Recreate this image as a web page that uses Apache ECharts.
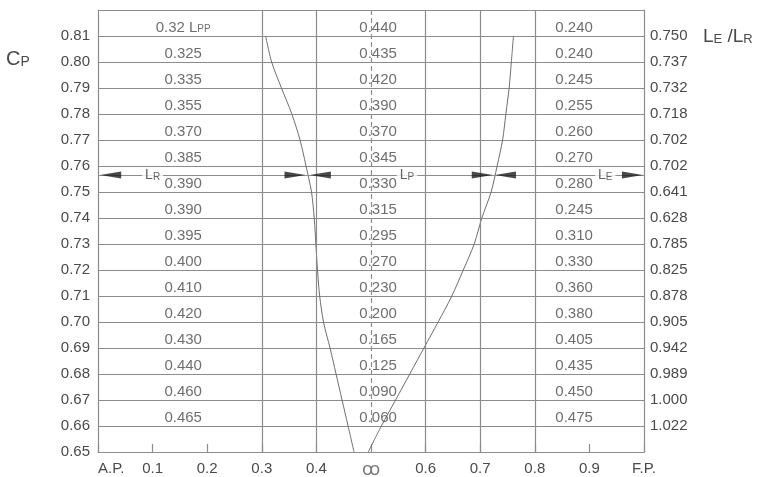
<!DOCTYPE html>
<html><head><meta charset="utf-8">
<script src="https://cdn.jsdelivr.net/npm/echarts@6/dist/echarts.min.js"></script>
<style>html,body{margin:0;padding:0;background:#fff}#c{width:762px;height:477px}</style>
</head><body><div id="c"></div>
<script>
// ---- data ----
const rowCp = [0.81,0.80,0.79,0.78,0.77,0.76,0.75,0.74,0.73,0.72,0.71,0.70,0.69,0.68,0.67,0.66];
const lrValues = ['0.32','0.325','0.335','0.355','0.370','0.385','0.390','0.390','0.395','0.400','0.410','0.420','0.430','0.440','0.460','0.465'];
const lpValues = ['0.440','0.435','0.420','0.390','0.370','0.345','0.330','0.315','0.295','0.270','0.230','0.200','0.165','0.125','0.090','0.060'];
const leValues = ['0.240','0.240','0.245','0.255','0.260','0.270','0.280','0.245','0.310','0.330','0.360','0.380','0.405','0.435','0.450','0.475'];
const leLrRatio = ['0.750','0.737','0.732','0.718','0.702','0.702','0.641','0.628','0.785','0.825','0.878','0.905','0.942','0.989','1.000','1.022'];
const xTickLabels = ['A.P.','0.1','0.2','0.3','0.4','{m|ꝏ}','0.6','0.7','0.8','0.9','F.P.'];
const aftCurve = [[0.307,0.81],[0.318,0.80],[0.336,0.79],[0.355,0.78],[0.370,0.77],[0.381,0.76],[0.391,0.75],[0.396,0.74],[0.399,0.73],[0.402,0.72],[0.406,0.71],[0.413,0.70],[0.425,0.69],[0.436,0.68],[0.447,0.67],[0.458,0.66],[0.469,0.65]];
const foreCurve = [[0.761,0.81],[0.757,0.80],[0.753,0.79],[0.747,0.78],[0.741,0.77],[0.731,0.76],[0.720,0.75],[0.703,0.74],[0.689,0.73],[0.669,0.72],[0.648,0.71],[0.623,0.70],[0.597,0.69],[0.571,0.68],[0.545,0.67],[0.519,0.66],[0.495,0.65]];
const lpLineCp = 0.7565;
const arrowTips = [0.004, 0.380, 0.388, 0.723, 0.727, 0.998];
const arrowDirs = ['left','right','left','right','left','right'];
const arrowLabels = [['L','R',0.100],['L','P',0.566],['L','E',0.929]];
const verticalLines = [0.3,0.4,0.6,0.7,0.8];

// ---- styling ----
const GRID = '#8c8c8c', TXT = '#4a4a4a', FONT = '"Liberation Sans", Arial, sans-serif';
const COL_X = {lr:0.156, lp:0.513, le:0.872};
const TEXT_DY = 0.0031;

const rowData = [];
rowCp.forEach((cp,i)=>{
  rowData.push([COL_X.lr, cp+TEXT_DY, i===0 ? lrValues[i]+' L{s|PP}' : lrValues[i]]);
  rowData.push([COL_X.lp, cp+TEXT_DY, lpValues[i]]);
  rowData.push([COL_X.le, cp+TEXT_DY, leValues[i]]);
});
const leftArrow = 'path://M0,5L24,0L24,10Z';
const rightArrow = 'path://M24,5L0,0L0,10Z';
const arrowData = arrowTips.map((x,i)=>({
  value:[x, lpLineCp],
  symbol: arrowDirs[i]==='left' ? leftArrow : rightArrow,
  symbolOffset: [arrowDirs[i]==='left' ? 10.5 : -10.5, 0]
}));
const tok = (size)=>({fontSize:size,color:TXT,fontFamily:FONT,fontWeight:'normal',verticalAlign:'bottom'});

const chart = echarts.init(document.getElementById('c'), null, {renderer:'canvas'});
chart.setOption({
  animation:false,
  title:[
    {text:'{a|C}{b|P}', left:6, top:49, padding:0,
     textStyle:{fontWeight:'normal',rich:{a:tok(20),b:tok(14)}}},
    {text:'{a|L}{b|E}{a| /L}{b|R}', left:703, top:27, padding:0,
     textStyle:{fontWeight:'normal',rich:{a:tok(19),b:tok(13)}}}
  ],
  grid:{left:98,right:118,top:10,bottom:25,containLabel:false,outerBoundsMode:'none'},
  xAxis:{type:'value',min:0,max:1,interval:0.1,
    axisLine:{show:true,lineStyle:{color:GRID,width:1.2}},
    axisTick:{show:true,inside:true,length:8,lineStyle:{color:GRID,width:1.2}},
    splitLine:{show:false},
    axisLabel:{margin:9,fontSize:15,color:TXT,fontFamily:FONT,alignMinLabel:'left',
      formatter:v=>xTickLabels[Math.round(v*10)],
      rich:{m:{fontFamily:'"Noto Sans","DejaVu Sans"',fontSize:18,color:'#777',padding:[0,0,2,0]}}}
  },
  yAxis:[
    {type:'value',min:0.65,max:0.82,interval:0.01,
     axisLine:{show:true,lineStyle:{color:GRID,width:1.2}},
     axisTick:{show:false},
     splitLine:{show:true,lineStyle:{color:GRID,width:1.2}},
     axisLabel:{margin:8,fontSize:15,color:TXT,fontFamily:FONT,
       formatter:v=> v>0.815 ? '' : v.toFixed(2)}},
    {type:'value',min:0.65,max:0.82,interval:0.01,position:'right',
     axisLine:{show:true,lineStyle:{color:GRID,width:1.2}},
     axisTick:{show:false},splitLine:{show:false},
     axisLabel:{margin:6,fontSize:15,color:TXT,fontFamily:FONT,
       formatter:v=>{const i=rowCp.findIndex(c=>Math.abs(c-v)<1e-6);return i<0?'':leLrRatio[i];}}}
  ],
  series:[
    {type:'line',data:aftCurve,symbol:'none',smooth:0.3,z:3,
     lineStyle:{color:'#6e6e6e',width:1},
     markLine:{silent:true,symbol:['none','none'],label:{show:false},
       lineStyle:{color:GRID,width:1.2,type:'solid'},
       data:[
         ...verticalLines.map(x=>({xAxis:x})),
         [{coord:[0.5,0.82]},{coord:[0.5,0.66],lineStyle:{type:[5,3],color:GRID,width:1.2}}],
         [{coord:[0,lpLineCp]},{coord:[1,lpLineCp]}]
       ]}},
    {type:'line',data:foreCurve,symbol:'none',smooth:0.3,z:3,
     lineStyle:{color:'#6e6e6e',width:1}},
    {type:'scatter',data:rowData,symbolSize:0,z:4,silent:true,
     label:{show:true,position:[0,0],align:'center',verticalAlign:'middle',
       fontSize:15,color:TXT,fontFamily:FONT,formatter:p=>p.data[2],
       rich:{s:{fontSize:10,color:TXT,fontFamily:FONT,verticalAlign:'bottom',padding:[0,0,1,0]}}}},
    {type:'scatter',data:arrowData,symbolSize:[21,7],z:5,silent:true,
     itemStyle:{color:'#1c1c1c'}},
    {type:'scatter',z:6,silent:true,symbolSize:0,
     data:arrowLabels.map(a=>[a[2],lpLineCp,a[0],a[1]]),
     label:{show:true,position:[0,0],align:'center',verticalAlign:'middle',
       backgroundColor:'#fff',padding:[1,3],
       formatter:p=>'{l|'+p.data[2]+'}{s|'+p.data[3]+'}',
       rich:{l:{fontSize:14,color:'#3a3a3a',fontFamily:FONT,verticalAlign:'bottom'},
             s:{fontSize:10,color:'#3a3a3a',fontFamily:FONT,verticalAlign:'bottom'}}}}
  ]
});
</script></body></html>
